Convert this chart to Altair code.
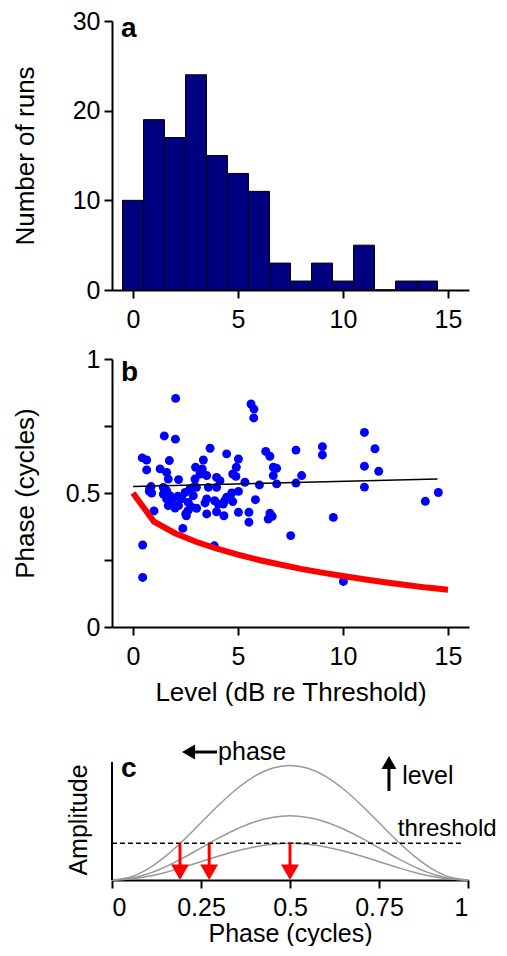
import altair as alt
import pandas as pd

FONT = "Liberation Sans"

# ---------------- Panel a: histogram ----------------
bin_centers = list(range(15))
run_counts = [10, 19, 17, 24, 15, 13, 11, 3, 1, 3, 1, 5, 0, 1, 1]

# ---------------- Panel b: scatter ----------------
level_db = [0.44, 0.65, 0.65, 0.46, 0.46, 0.79, 0.86, 0.78, 0.89, 1.00,
            1.29, 1.49, 1.60, 1.73, 1.68, 1.44, 1.60, 1.44, 1.76, 1.60,
            1.92, 1.82, 1.68, 2.00, 2.03, 2.02, 2.17, 2.14, 2.17, 2.32,
            2.48, 2.71, 2.87, 2.87, 2.79, 2.63, 2.62, 2.51, 2.37, 2.95,
            2.98, 3.03, 3.19, 3.30, 3.35, 3.51, 3.59, 3.51, 3.43, 3.51,
            3.67, 3.87, 3.98, 3.98, 3.89, 4.06, 3.98, 4.14, 4.30, 4.33,
            4.37, 4.46, 4.46, 4.70, 4.75, 4.75, 4.90, 4.92, 5.02, 5.02,
            5.02, 5.33, 5.52, 5.52, 5.62, 5.76, 5.75, 5.83, 6.02, 6.32,
            6.52, 6.68, 6.84, 6.68, 6.84, 6.52, 6.44, 6.63, 7.51, 7.76,
            7.76, 8.03, 9.02, 9.02, 9.54, 10.02, 11.02, 11.02, 11.02, 11.52,
            11.70, 13.92, 14.54, 3.02, 2.54]
phase_cyc = [0.631, 0.623, 0.586, 0.306, 0.185, 0.515, 0.524, 0.506, 0.500, 0.433,
             0.590, 0.713, 0.577, 0.621, 0.552, 0.521, 0.509, 0.496, 0.490, 0.478,
             0.478, 0.471, 0.453, 0.444, 0.853, 0.701, 0.550, 0.488, 0.453, 0.478,
             0.502, 0.515, 0.521, 0.490, 0.447, 0.465, 0.434, 0.422, 0.368, 0.552,
             0.596, 0.443, 0.571, 0.590, 0.623, 0.565, 0.521, 0.478, 0.463, 0.422,
             0.667, 0.303, 0.558, 0.521, 0.471, 0.459, 0.430, 0.546, 0.459, 0.415,
             0.471, 0.484, 0.646, 0.500, 0.468, 0.571, 0.562, 0.596, 0.627, 0.506,
             0.428, 0.540, 0.428, 0.391, 0.832, 0.813, 0.780, 0.475, 0.530, 0.655,
             0.637, 0.596, 0.592, 0.565, 0.534, 0.425, 0.403, 0.413, 0.341, 0.660,
             0.537, 0.565, 0.673, 0.642, 0.409, 0.170, 0.726, 0.600, 0.522, 0.665,
             0.581, 0.469, 0.502, 0.521, 0.415]

fit_level = [0.0, 14.5]
fit_phase = [0.524, 0.552]

model_level = list(range(16))
model_phase = [0.500, 0.393, 0.350, 0.318, 0.292, 0.270, 0.250, 0.233,
               0.217, 0.203, 0.190, 0.178, 0.167, 0.157, 0.147, 0.139]

# ---------------- Panel c: schematic ----------------
c_phase = [0.0, 0.05, 0.10, 0.15, 0.20, 0.25, 0.30, 0.35, 0.40, 0.45, 0.50,
           0.55, 0.60, 0.65, 0.70, 0.75, 0.80, 0.85, 0.90, 0.95, 1.0]
amp_high = [0.0, 0.024, 0.095, 0.206, 0.345, 0.500, 0.655, 0.794, 0.905, 0.976, 1.000,
            0.976, 0.905, 0.794, 0.655, 0.500, 0.345, 0.206, 0.095, 0.024, 0.0]
amp_mid = [0.0, 0.014, 0.053, 0.115, 0.193, 0.280, 0.367, 0.445, 0.507, 0.546, 0.560,
           0.546, 0.507, 0.445, 0.367, 0.280, 0.193, 0.115, 0.053, 0.014, 0.0]
amp_low = [0.0, 0.008, 0.031, 0.066, 0.111, 0.160, 0.209, 0.254, 0.289, 0.312, 0.320,
           0.312, 0.289, 0.254, 0.209, 0.160, 0.111, 0.066, 0.031, 0.008, 0.0]
threshold = 0.32
threshold_span = [0.0, 0.985]
crossings = [0.191, 0.273, 0.5]

W = 357
XDOM = [-1, 16]

# ---------- panel a ----------
hist_df = pd.DataFrame({
    "lo": [c - 0.5 for c in bin_centers],
    "hi": [c + 0.5 for c in bin_centers],
    "n": run_counts,
})
bars = alt.Chart(hist_df).mark_rect(color="#000080", stroke="black", strokeWidth=1).encode(
    x=alt.X("lo:Q", scale=alt.Scale(domain=XDOM, nice=False, zero=False),
            axis=alt.Axis(values=[0, 5, 10, 15], title=None, labelPadding=9)),
    x2="hi:Q",
    y=alt.Y("n:Q", scale=alt.Scale(domain=[0, 30], nice=False),
            axis=alt.Axis(values=[0, 10, 20, 30], title="Number of runs",
                          labelPadding=4, titlePadding=34)),
    y2=alt.datum(0),
)
lab_a = alt.Chart(pd.DataFrame({"t": ["a"]})).mark_text(
    font=FONT, fontWeight="bold", fontSize=28, align="left", baseline="alphabetic", color="black"
).encode(text="t:N", x=alt.value(9), y=alt.value(16))
panel_a = alt.layer(bars, lab_a).properties(width=W, height=269)

# ---------- panel b ----------
sc_df = pd.DataFrame({"L": level_db, "P": phase_cyc})
fit_df = pd.DataFrame({"L": fit_level, "P": fit_phase})
mod_df = pd.DataFrame({"L": model_level, "P": model_phase})

xb = alt.X("L:Q", scale=alt.Scale(domain=XDOM, nice=False, zero=False),
           axis=alt.Axis(values=[0, 5, 10, 15], title="Level (dB re Threshold)",
                         labelPadding=9, titlePadding=10))
yb = alt.Y("P:Q", scale=alt.Scale(domain=[0, 1], nice=False),
           axis=alt.Axis(values=[0, 0.25, 0.5, 0.75, 1], title="Phase (cycles)",
                         labelExpr="datum.value == 0 ? '0' : datum.value == 0.5 ? '0.5' : datum.value == 1 ? '1' : ''",
                         labelPadding=4, titlePadding=27))
dots = alt.Chart(sc_df).mark_circle(size=80, color="#0000ff", opacity=1).encode(x=xb, y=yb)
redl = alt.Chart(mod_df).mark_line(color="#ff0000", strokeWidth=6).encode(x="L:Q", y="P:Q")
fitl = alt.Chart(fit_df).mark_line(color="black", strokeWidth=1.5).encode(x="L:Q", y="P:Q")
lab_b = alt.Chart(pd.DataFrame({"t": ["b"]})).mark_text(
    font=FONT, fontWeight="bold", fontSize=28, align="left", baseline="alphabetic", color="black"
).encode(text="t:N", x=alt.value(9), y=alt.value(22))
panel_b = alt.layer(dots, redl, fitl, lab_b).properties(width=W, height=268)

# ---------- panel c ----------
YC = [0, 1.606]
curve_df = pd.concat([
    pd.DataFrame({"ph": c_phase, "amp": amp_high, "k": "high"}),
    pd.DataFrame({"ph": c_phase, "amp": amp_mid, "k": "mid"}),
    pd.DataFrame({"ph": c_phase, "amp": amp_low, "k": "low"}),
])
xc = alt.X("ph:Q", scale=alt.Scale(domain=[0, 1], nice=False),
           axis=alt.Axis(values=[0, 0.25, 0.5, 0.75, 1], title="Phase (cycles)",
                         labelExpr="datum.value == 0 ? '0' : datum.value == 0.25 ? '0.25' : datum.value == 0.5 ? '0.5' : datum.value == 0.75 ? '0.75' : '1'",
                         labelPadding=7, titlePadding=1, titleFontSize=25))
yc = alt.Y("amp:Q", scale=alt.Scale(domain=YC, nice=False), axis=None)
curves = alt.Chart(curve_df).mark_line(color="#999999", strokeWidth=1.5, interpolate="monotone").encode(
    x=xc, y=yc, detail="k:N")

thr_df = pd.DataFrame({"ph": [threshold_span[0]], "ph2": [threshold_span[1]], "amp": [threshold]})
thr = alt.Chart(thr_df).mark_rule(color="black", strokeWidth=1.5, strokeDash=[5, 3]).encode(
    x="ph:Q", x2="ph2:Q", y="amp:Q")

yaxis_df = pd.DataFrame({"ph": [0.0], "a0": [0.0], "a1": [1.03]})
yline = alt.Chart(yaxis_df).mark_rule(color="black", strokeWidth=2).encode(
    x="ph:Q", y="a0:Q", y2="a1:Q")

arr_df = pd.DataFrame({"ph": crossings, "top": [threshold] * 3, "bot": [0.1] * 3, "head": [0.068] * 3})
shafts = alt.Chart(arr_df).mark_rule(color="#ff0000", strokeWidth=3).encode(
    x="ph:Q", y="top:Q", y2="bot:Q")
heads = alt.Chart(arr_df).mark_point(shape="triangle-down", size=320, filled=True,
                                      color="#ff0000", opacity=1).encode(x="ph:Q", y="head:Q")

# annotation arrows: "phase" (left) and "level" (up)
ph_arrow = pd.DataFrame({"x0": [0.215], "x1": [0.295], "y": [1.117]})
ph_shaft = alt.Chart(ph_arrow).mark_rule(color="black", strokeWidth=3).encode(
    x="x0:Q", x2="x1:Q", y="y:Q")
ph_head = alt.Chart(ph_arrow).mark_point(shape="triangle-left", size=225, filled=True,
                                          color="black", opacity=1).encode(x="x0:Q", y="y:Q")
lv_arrow = pd.DataFrame({"x": [0.778], "y0": [0.777], "y1": [1.0], "yh": [1.025]})
lv_shaft = alt.Chart(lv_arrow).mark_rule(color="black", strokeWidth=3).encode(
    x="x:Q", y="y0:Q", y2="y1:Q")
lv_head = alt.Chart(lv_arrow).mark_point(shape="triangle-up", size=225, filled=True,
                                          color="black", opacity=1).encode(x="x:Q", y="yh:Q")

notes_df = pd.DataFrame({
    "t": ["phase", "level", "threshold"],
    "x": [0.298, 0.815, 0.803],
    "y": [1.117, 0.907, 0.387],
    "b": ["middle", "middle", "alphabetic"],
})
note_mid = alt.Chart(notes_df[notes_df.b == "middle"]).mark_text(
    font=FONT, fontSize=25, align="left", baseline="middle", color="black").encode(
    x="x:Q", y="y:Q", text="t:N")
note_alpha = alt.Chart(notes_df[notes_df.b == "alphabetic"]).mark_text(
    font=FONT, fontSize=24, align="left", baseline="alphabetic", color="black").encode(
    x="x:Q", y="y:Q", text="t:N")

lab_c = alt.Chart(pd.DataFrame({"t": ["c"]})).mark_text(
    font=FONT, fontWeight="bold", fontSize=28, align="left", baseline="alphabetic", color="black"
).encode(text="t:N", x=alt.value(9), y=alt.value(81))
amp_title = alt.Chart(pd.DataFrame({"t": ["Amplitude"]})).mark_text(
    font=FONT, fontSize=25, align="center", baseline="bottom", angle=270, color="black"
).encode(text="t:N", x=alt.value(-20), y=alt.value(124))

panel_c = alt.layer(curves, thr, yline, shafts, heads, ph_shaft, ph_head, lv_shaft, lv_head,
                    note_mid, note_alpha, lab_c, amp_title).properties(width=356, height=184)

chart = alt.vconcat(panel_a, panel_b, panel_c, spacing=69, bounds="flush").properties(
    padding={"left": 4, "right": 0, "top": 1, "bottom": 0}
).configure_axis(
    domainColor="black", domainWidth=2, tickColor="black", tickWidth=2, tickSize=8,
    labelFont=FONT, labelFontSize=25, labelColor="black",
    titleFont=FONT, titleFontSize=26, titleFontWeight="normal", titleColor="black",
    grid=False,
).configure_view(stroke=None).configure_text(font=FONT)

chart.save("out.html", embed_options={"renderer": "svg", "actions": False})
